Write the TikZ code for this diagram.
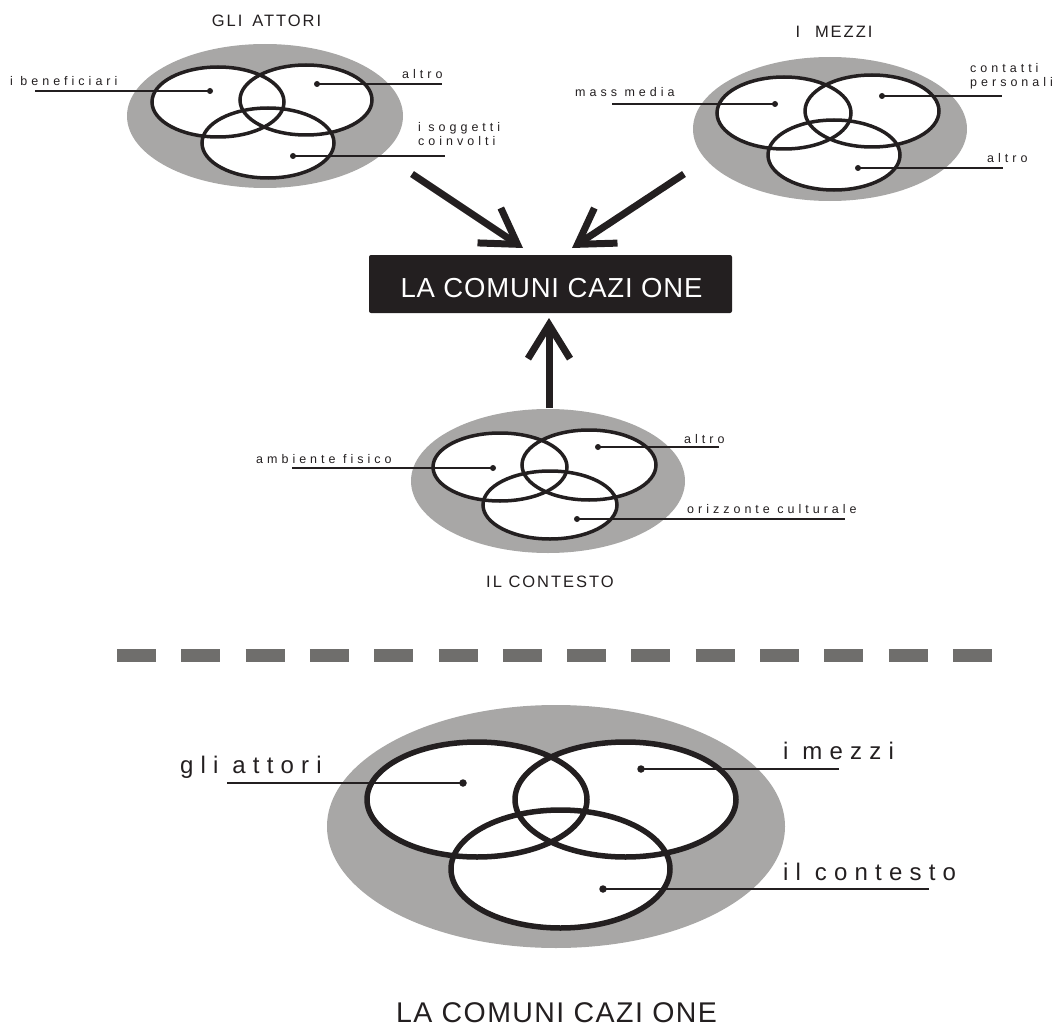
\documentclass[tikz,border=0pt]{standalone}
\usepackage{fontspec}
\setmainfont{Liberation Sans}
\newfontfamily\lblfont[LetterSpace=32]{Liberation Sans}
\newfontfamily\ttlfont[LetterSpace=12]{Liberation Sans}
\newfontfamily\midfont[LetterSpace=30]{Liberation Sans}
\newfontfamily\boxfont[LetterSpace=3]{Liberation Sans}
\newfontfamily\botfont[LetterSpace=5]{Liberation Sans}
\usetikzlibrary{arrows.meta}
\definecolor{ink}{RGB}{35,31,32}
\definecolor{halo}{RGB}{168,167,166}
\definecolor{dashgray}{RGB}{111,110,108}
\begin{document}
\begin{tikzpicture}[x=1pt,y=-1pt,
  halofill/.style={fill=halo},
  ring/.style={draw=ink, line width=3.5pt},
  bigring/.style={draw=ink, line width=5.5pt},
  leader/.style={draw=ink, line width=1.2pt},
  dotmark/.style={circle, fill=ink, inner sep=0pt, minimum size=6pt},
  bigdot/.style={circle, fill=ink, inner sep=0pt, minimum size=7.5pt},
  small/.style={inner sep=0pt, anchor=base west, text=ink, align=left,
    font={\lblfont\fontsize{12.5}{14.5}\selectfont}},
  ttl/.style={inner sep=0pt, anchor=base, text=ink,
    font={\ttlfont\fontsize{16.5}{19}\selectfont}},
  mid/.style={inner sep=0pt, anchor=base west, text=ink,
    font={\midfont\fontsize{24}{28}\selectfont}},
  bigarrow/.style={draw=ink, line width=7pt,
    -{Straight Barb[length=34pt, width=42pt, line cap=butt, line join=miter]}},
]
\useasboundingbox (0,0) rectangle (1058,1030);

% ---------- GLI ATTORI ----------
\fill[halofill] (265,116) ellipse [x radius=138, y radius=72];
\fill[white] (218,102) ellipse [x radius=66, y radius=35];
\fill[white] (306,100) ellipse [x radius=66, y radius=35];
\fill[white] (268,143) ellipse [x radius=66, y radius=35];
\draw[ring] (218,102) ellipse [x radius=66, y radius=35];
\draw[ring] (306,100) ellipse [x radius=66, y radius=35];
\draw[ring] (268,143) ellipse [x radius=66, y radius=35];
\node[ttl] (tA) at (266.5,27) {GLI\hspace{0.6em}ATTORI};
\node[dotmark] (dA1) at (210,91) {};
\node[dotmark] (dA2) at (317,84) {};
\node[dotmark] (dA3) at (293,156) {};
\coordinate (eA1) at (35,91);
\coordinate (eA2) at (442,84);
\coordinate (eA3) at (445,156);
\draw[leader] (dA1.center) -- (eA1);
\draw[leader] (dA2.center) -- (eA2);
\draw[leader] (dA3.center) -- (eA3);
\node[small] (lA1) at (10,86) {i beneficiari};
\node[small] (lA2) at (402,79) {altro};
\node[small] (lA3) at (418,146) {i soggetti\\coinvolti};

% ---------- I MEZZI ----------
\fill[halofill] (830,129) ellipse [x radius=137, y radius=72];
\fill[white] (784,113) ellipse [x radius=67, y radius=36];
\fill[white] (872,111) ellipse [x radius=67, y radius=36];
\fill[white] (834,155) ellipse [x radius=66, y radius=35];
\draw[ring] (784,113) ellipse [x radius=67, y radius=36];
\draw[ring] (872,111) ellipse [x radius=67, y radius=36];
\draw[ring] (834,155) ellipse [x radius=66, y radius=35];
\node[ttl] (tM) at (834,38) {I\hspace{0.9em}MEZZI};
\node[dotmark] (dM1) at (775,104) {};
\node[dotmark] (dM2) at (882,96) {};
\node[dotmark] (dM3) at (858,168) {};
\coordinate (eM1) at (612,104);
\coordinate (eM2) at (1002,96);
\coordinate (eM3) at (1003,168);
\draw[leader] (dM1.center) -- (eM1);
\draw[leader] (dM2.center) -- (eM2);
\draw[leader] (dM3.center) -- (eM3);
\node[small] (lM1) at (575,97) {mass media};
\node[small] (lM2) at (970,87) {contatti\\personali};
\node[small] (lM3) at (987,163) {altro};

% ---------- central box and arrows ----------
\node[fill=ink, rounded corners=2pt, minimum width=363pt, minimum height=58pt, inner sep=0pt] (box) at (550.5,284) {};
\node[inner sep=0pt, anchor=base, text=white, font={\boxfont\fontsize{27.5}{31}\selectfont}] (boxtxt) at (551.5,297) {LA COMUNI CAZI ONE};
\coordinate (a1s) at (412,174);
\coordinate (a1e) at (523,248);
\coordinate (a2s) at (684,174);
\coordinate (a2e) at (572,248);
\coordinate (a3s) at (549,408);
\coordinate (a3e) at (549,318);
\draw[bigarrow] (a1s) -- (a1e);
\draw[bigarrow] (a2s) -- (a2e);
\draw[bigarrow] (a3s) -- (a3e);

% ---------- IL CONTESTO ----------
\fill[halofill] (548,481) ellipse [x radius=137, y radius=72];
\fill[white] (500,467) ellipse [x radius=67, y radius=34];
\fill[white] (589,465) ellipse [x radius=67, y radius=35];
\fill[white] (550,505) ellipse [x radius=67, y radius=34];
\draw[ring] (500,467) ellipse [x radius=67, y radius=34];
\draw[ring] (589,465) ellipse [x radius=67, y radius=35];
\draw[ring] (550,505) ellipse [x radius=67, y radius=34];
\node[ttl] (tC) at (550,587) {IL CONTESTO};
\node[dotmark] (dC1) at (493,468) {};
\node[dotmark] (dC2) at (598,447) {};
\node[dotmark] (dC3) at (577,519) {};
\coordinate (eC1) at (292,468);
\coordinate (eC2) at (719,447);
\coordinate (eC3) at (845,519);
\draw[leader] (dC1.center) -- (eC1);
\draw[leader] (dC2.center) -- (eC2);
\draw[leader] (dC3.center) -- (eC3);
\node[small] (lC1) at (256,463) {ambiente fisico};
\node[small] (lC2) at (684,443) {altro};
\node[small] (lC3) at (687,513) {orizzonte culturale};

% ---------- separator ----------
\coordinate (sepL) at (117,655.5);
\coordinate (sepR) at (992,655.5);
\draw[dashgray, line width=13pt, dash pattern=on 39pt off 25.3pt] (sepL) -- (sepR);

% ---------- LA COMUNICAZIONE (bottom) ----------
\fill[halofill] (556,826.5) ellipse [x radius=229, y radius=121.5];
\fill[white] (477,799.5) ellipse [x radius=110, y radius=57.5];
\fill[white] (625.5,799.5) ellipse [x radius=110.5, y radius=57.5];
\fill[white] (560.5,869) ellipse [x radius=109.5, y radius=59];
\draw[bigring] (477,799.5) ellipse [x radius=110, y radius=57.5];
\draw[bigring] (625.5,799.5) ellipse [x radius=110.5, y radius=57.5];
\draw[bigring] (560.5,869) ellipse [x radius=109.5, y radius=59];
\node[bigdot] (dB1) at (463,783) {};
\node[bigdot] (dB2) at (641,769) {};
\node[bigdot] (dB3) at (603,889) {};
\coordinate (eB1) at (227,783);
\coordinate (eB2) at (839,769);
\coordinate (eB3) at (929,889);
\draw[leader, line width=1.5pt] (dB1.center) -- (eB1);
\draw[leader, line width=1.5pt] (dB2.center) -- (eB2);
\draw[leader, line width=1.5pt] (dB3.center) -- (eB3);
\node[mid, anchor=base east] (lB1) at (322,773) {gli attori};
\node[mid] (lB2) at (783,759) {i mezzi};
\node[mid] (lB3) at (783,880) {il contesto};
\node[inner sep=0pt, anchor=base, text=ink, font={\botfont\fontsize{28.5}{32}\selectfont}] (bottomtitle) at (556.5,1022) {LA COMUNI CAZI ONE};
\end{tikzpicture}
\end{document}
